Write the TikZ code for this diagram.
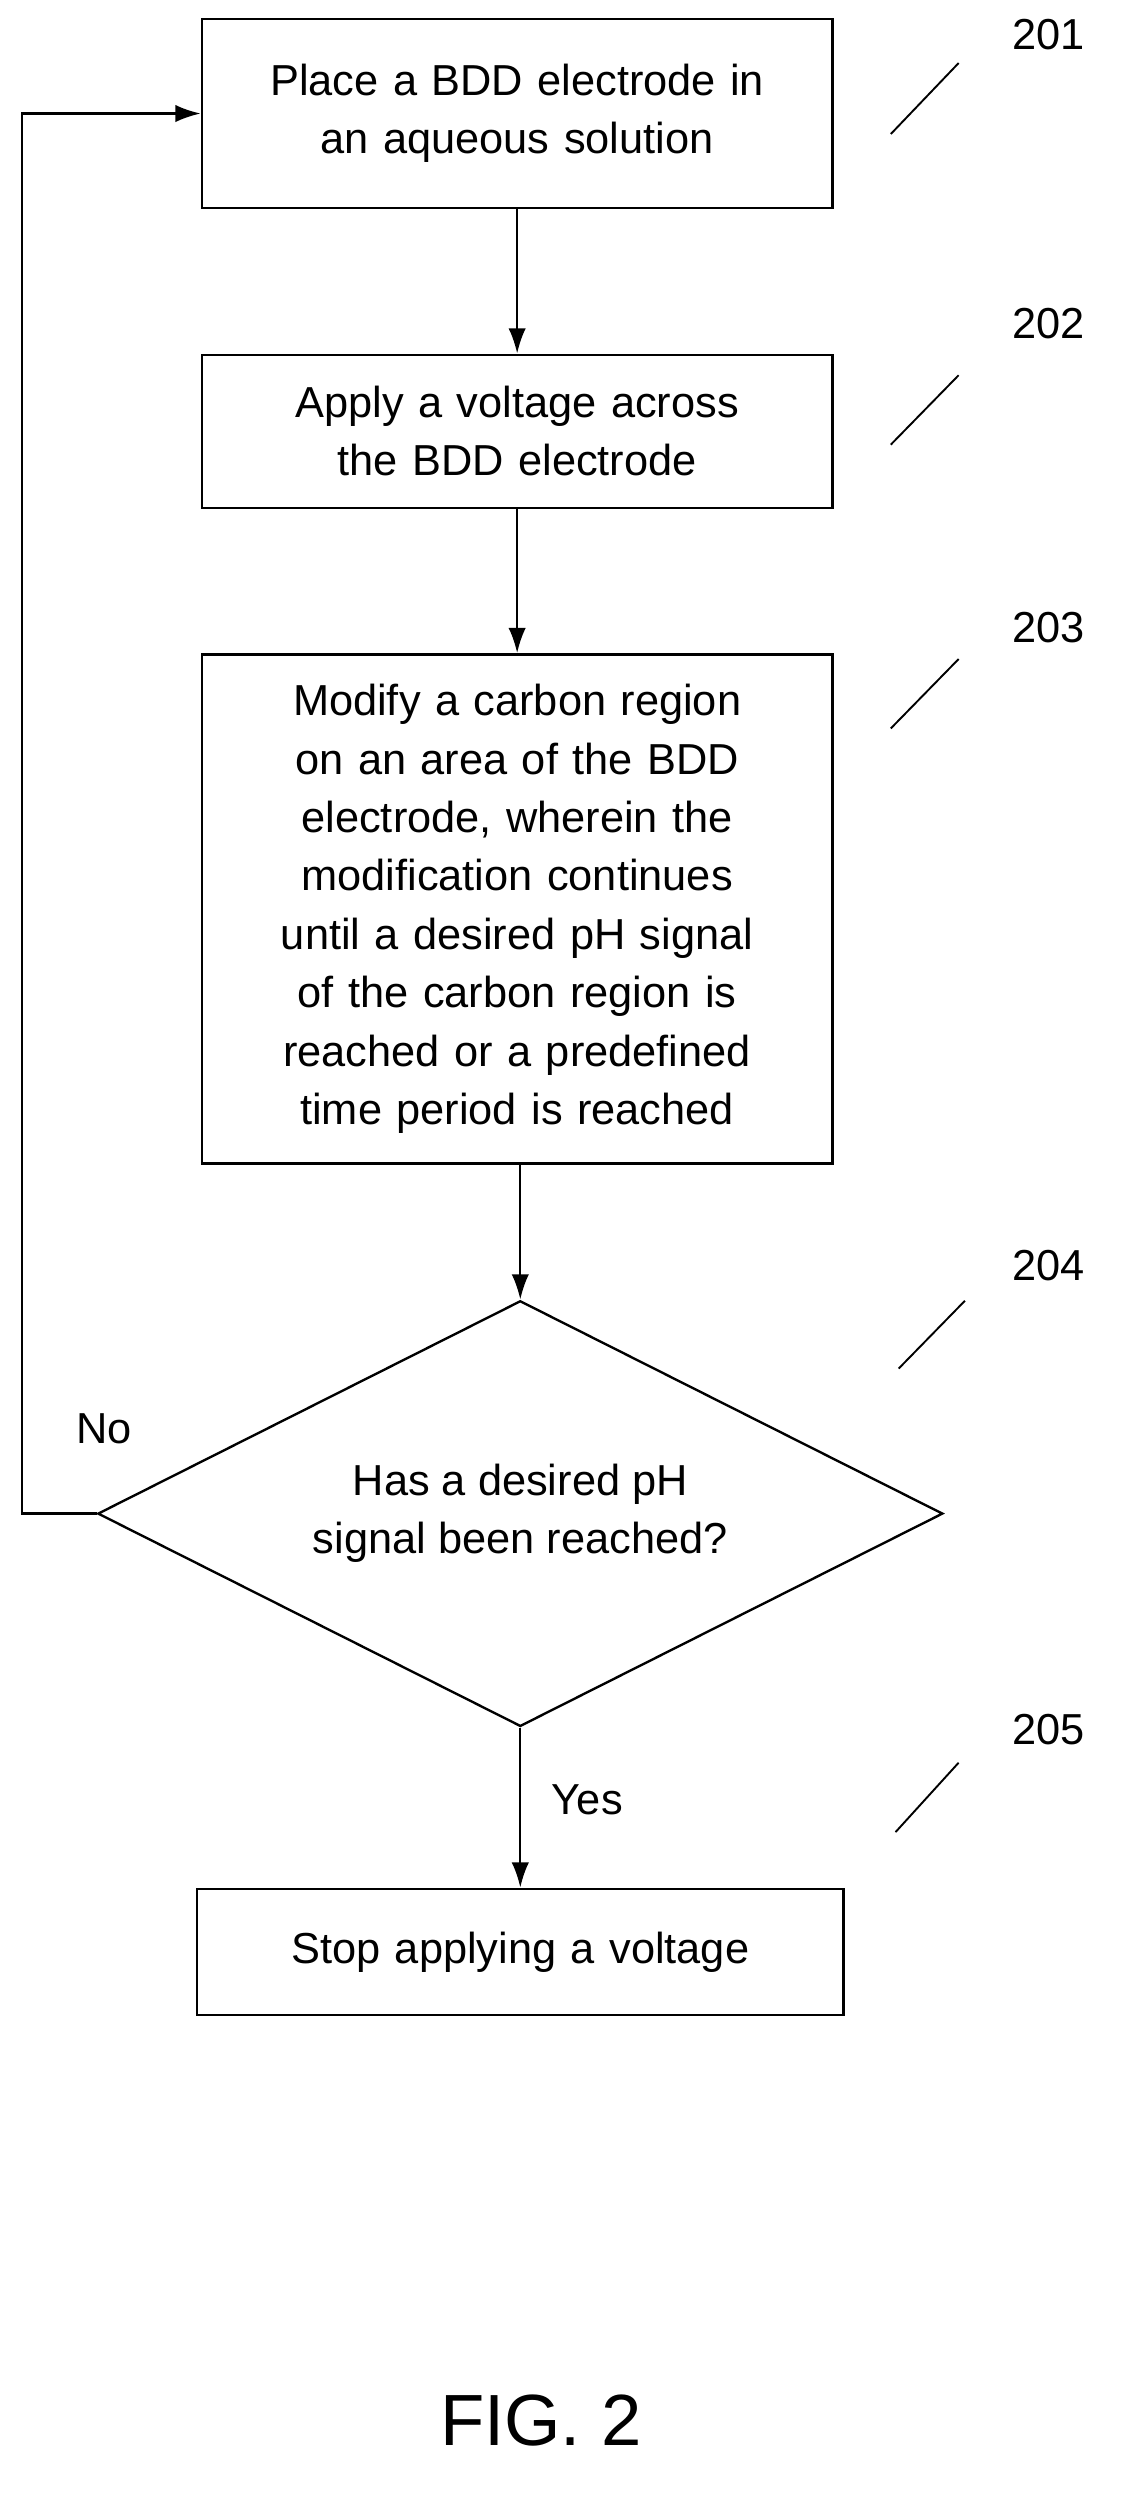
\documentclass[tikz,border=0pt]{standalone}
\usepackage{fontspec}
\setmainfont{Liberation Sans}
\usetikzlibrary{arrows.meta,positioning,shapes.geometric}
\tikzset{
  stepbox/.style={draw,line width=1.5pt,align=center,minimum width=400pt,text width=390pt,inner sep=0pt,font=\fontsize{27.5}{37}\selectfont},
  decide/.style={draw,diamond,line width=1.5pt,align=center,minimum width=536pt,minimum height=270pt,aspect=1.985,inner sep=0pt,font=\fontsize{27.5}{37}\selectfont},
  flow/.style={-{Latex[length=16pt,width=11pt]},line width=1.5pt},
  refnum/.style={font=\fontsize{27.5}{30}\selectfont},
  tick/.style={line width=1.2pt}
}
\begin{document}
\begin{tikzpicture}[x=1pt,y=-1pt]
    \useasboundingbox (0,0) rectangle (712,1585);
    % steps
    \node[stepbox,minimum height=120pt] (place) at (328,72) {Place a BDD electrode in\\an aqueous solution};
    \node[stepbox,minimum height=97pt] (apply) at (328,273.5) {Apply a voltage across\\the BDD electrode};
    \node[stepbox,minimum height=323pt] (modify) at (328,576.5) {Modify a carbon region\\on an area of the BDD\\electrode, wherein the\\modification continues\\until a desired pH signal\\of the carbon region is\\reached or a predefined\\time period is reached};
    \node[decide] (check) at (330,960) {Has a desired pH\\signal been reached?};
    \node[stepbox,minimum width=410pt,minimum height=80pt] (stop) at (330,1238) {Stop applying a voltage};
    % flows
    \draw[flow] (place) -- (apply);
    \draw[flow] (apply) -- (modify);
    \draw[flow] (modify.south -| check.north) -- (check.north);
    \draw[flow] (check.south) -- node[pos=0.45,right=16pt,font=\fontsize{27.5}{30}\selectfont]{Yes} (stop.north -| check.south);
    \draw[flow] (check.west) -- (14,960) |- (place.west);
    \node[font=\fontsize{27.5}{30}\selectfont] (no) at (66,906) {No};
    % reference numerals
    \node[refnum] (n201) at (665,22) {201};
    \node[refnum] (n202) at (665,205) {202};
    \node[refnum] (n203) at (665,398) {203};
    \node[refnum] (n204) at (665,803) {204};
    \node[refnum] (n205) at (665,1097) {205};
    \draw[tick] (565,85) -- (608,40);
    \draw[tick] (565,282) -- (608,238);
    \draw[tick] (565,462) -- (608,418);
    \draw[tick] (570,868) -- (612,825);
    \draw[tick] (568,1162) -- (608,1118);
    \node[font=\fontsize{46}{50}\selectfont] (fig) at (343,1535) {FIG. 2};
\end{tikzpicture}
\end{document}
